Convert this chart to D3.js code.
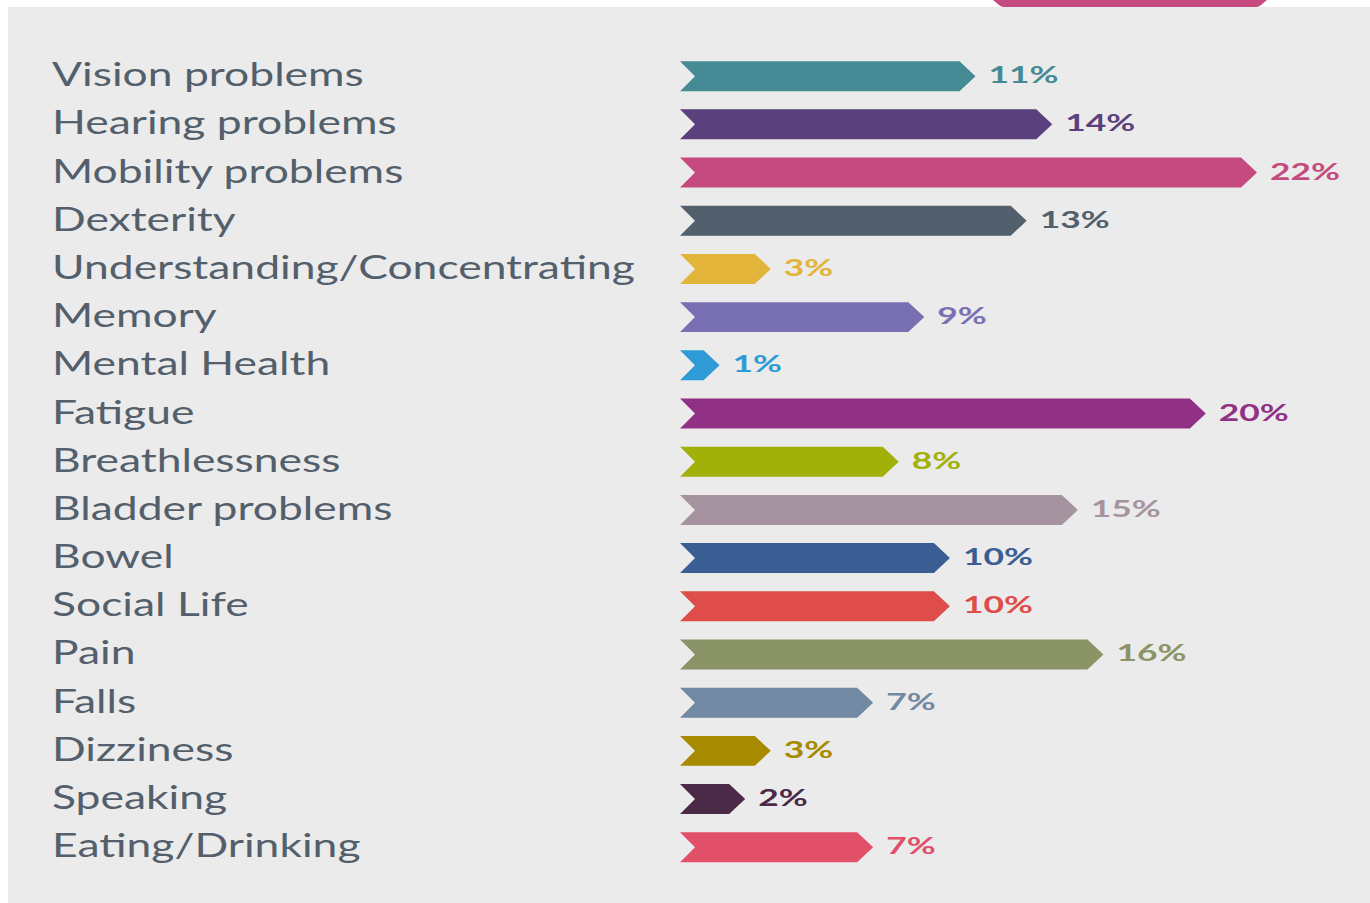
<!DOCTYPE html>
<html><head><meta charset="utf-8">
<script src="https://cdn.jsdelivr.net/npm/d3@7"></script>
<style>html,body{margin:0;padding:0;background:#fff;}svg{display:block;}</style>
</head><body>
<script>
const categories = ["Vision problems","Hearing problems","Mobility problems","Dexterity","Understanding/Concentrating","Memory","Mental Health","Fatigue","Breathlessness","Bladder problems","Bowel","Social Life","Pain","Falls","Dizziness","Speaking","Eating/Drinking"];
const values = [11,14,22,13,3,9,1,20,8,15,10,10,16,7,3,2,7];
const colors = ["#458a95","#5a407c","#c44a7f","#525f6c","#e2b43a","#7870b2","#2e9bd6","#913186","#a1b10a","#a5949f","#3a5e93","#de4d4a","#8a9466","#7288a3","#a78a00","#4b2a47","#e14f69"];
const valueLabels = values.map(v => v + "%");

const W = 1370, H = 903;
const svg = d3.select("body").append("svg").attr("width", W).attr("height", H);

// panel
svg.append("rect").attr("x", 8).attr("y", 7).attr("width", W - 8).attr("height", H - 7).attr("fill", "#ebebeb");
// pink tab cut off at top
svg.append("path").attr("d", "M993,0 L1267,0 L1261,5 Q1259,7 1256,7 L1004,7 Q1001,7 999,5 Z").attr("fill", "#c44a7f");

const y = d3.scaleBand().domain(categories).range([52, 52 + 48.2 * categories.length]).paddingInner(0.378).paddingOuter(0.19);
const x = d3.scaleLinear().domain([0, 22]).range([694, 1257]);
const x0 = 680, notch = 15, point = 16;

const rows = svg.selectAll("g.row").data(categories).join("g").attr("class", "row");

rows.append("path")
  .attr("d", (c, i) => {
    const t = y(c), b = t + y.bandwidth(), m = (t + b) / 2, tip = x(values[i]);
    return `M${x0},${t} L${tip - point},${t} L${tip},${m} L${tip - point},${b} L${x0},${b} L${x0 + notch},${m} Z`;
  })
  .attr("fill", (c, i) => colors[i]);

const labels = rows.append("text")
  .attr("font-family", "Lato, 'Open Sans', sans-serif")
  .attr("font-weight", 400)
  .attr("font-size", 32)
  .attr("fill", "#53606c")
  .text(c => c);

const vals = rows.append("text")
  .attr("font-family", "Lato, 'Open Sans', sans-serif")
  .attr("font-weight", 700)
  .attr("font-size", 23)
  .attr("fill", (c, i) => colors[i])
  .text((c, i) => valueLabels[i]);

// horizontal stretch to match the reference's wide lettering
const refNode = labels.filter(c => c === "Understanding/Concentrating").node();
const sx = 583 / refNode.getComputedTextLength();
labels.attr("transform", c => `translate(52,${y(c) + y.bandwidth() / 2 + 10}) scale(${sx},1)`);

const refV = vals.filter((c, i) => i === 2).node();
const sv = 70 / refV.getComputedTextLength();
vals.attr("transform", (c, i) => `translate(${x(values[i]) + 13},${y(c) + y.bandwidth() / 2 + 7}) scale(${sv},1)`);
</script>
</body></html>
